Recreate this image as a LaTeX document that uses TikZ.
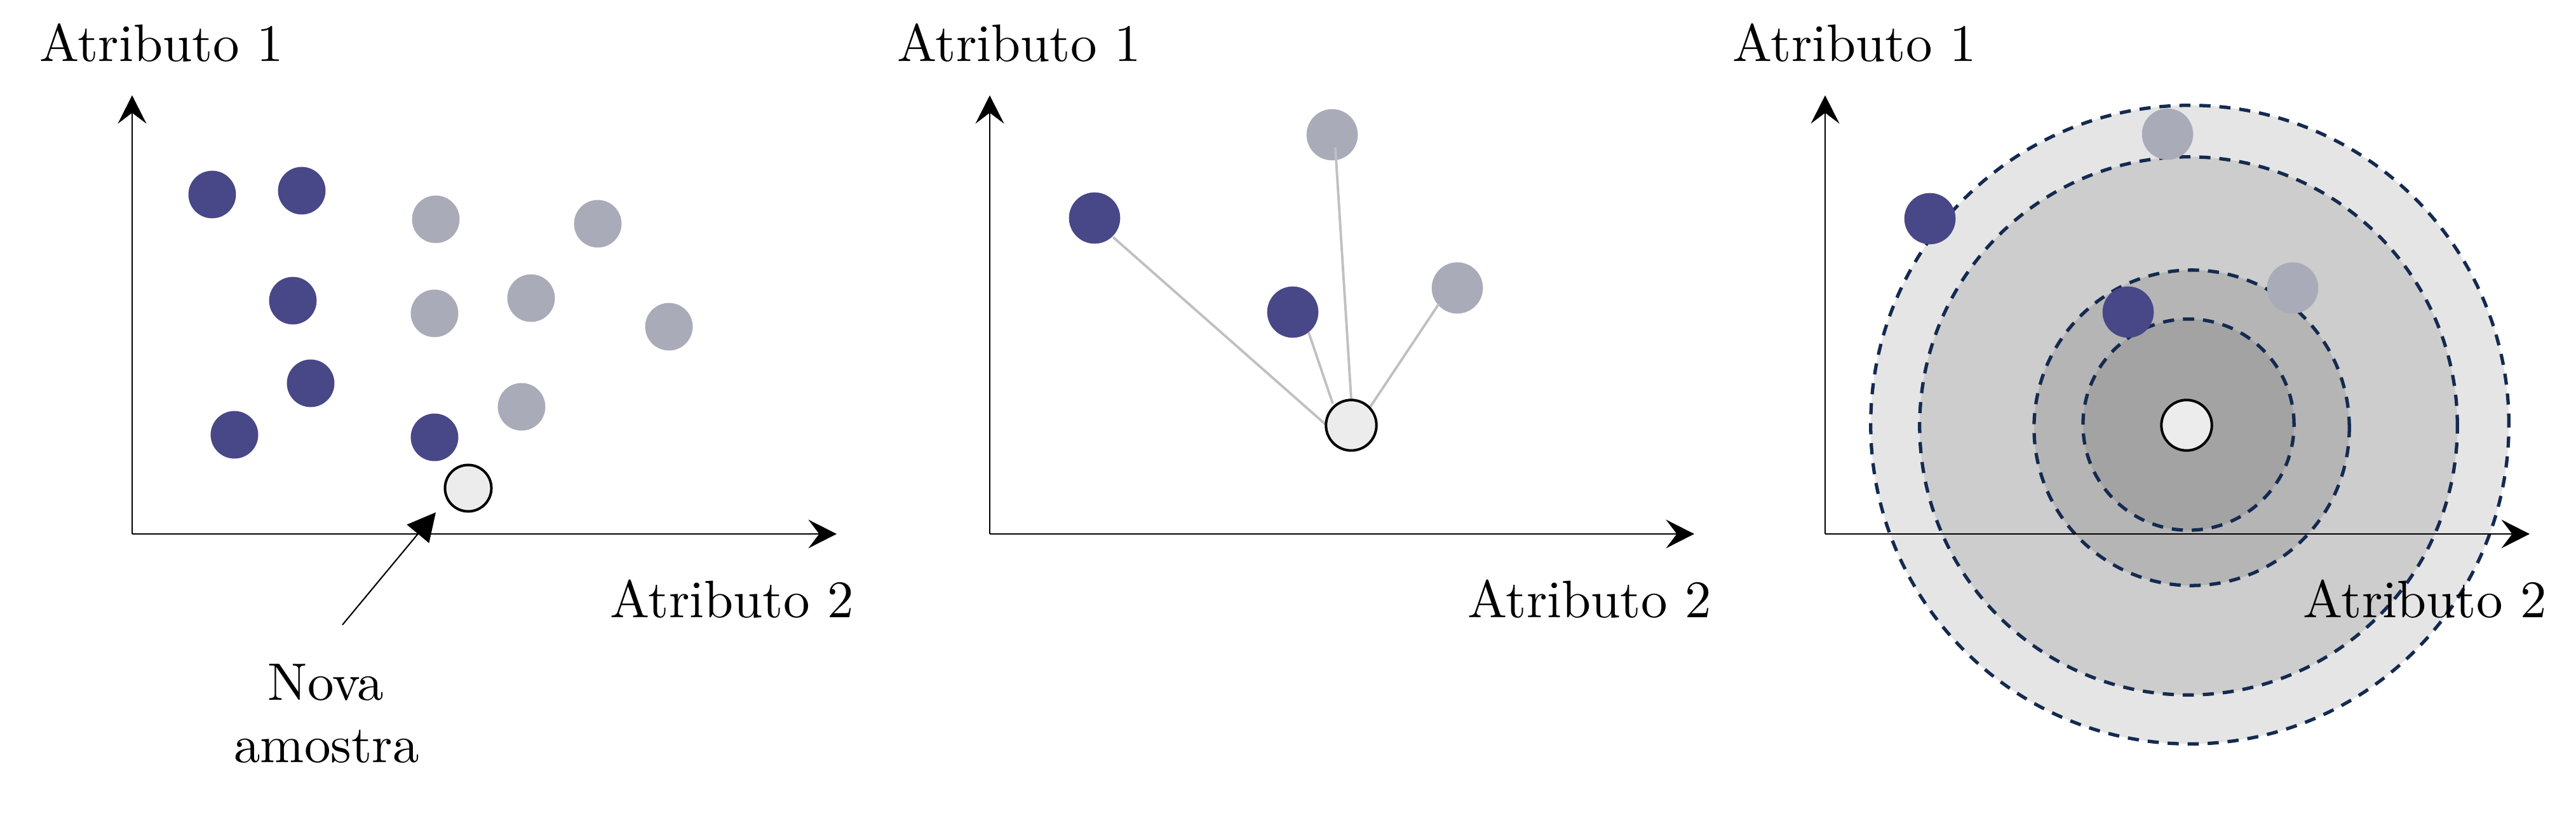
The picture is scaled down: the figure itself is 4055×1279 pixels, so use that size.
\documentclass[tikz,border=0pt]{standalone}
\usepackage{fontspec}
\setmainfont{lmroman10-regular.otf}
\usetikzlibrary{arrows.meta}
\definecolor{dotdark}{RGB}{72,71,135}
\definecolor{dotlight}{RGB}{169,171,185}
\definecolor{newfill}{RGB}{236,236,236}
\definecolor{ringA}{RGB}{229,229,229}
\definecolor{ringB}{RGB}{205,205,205}
\definecolor{ringC}{RGB}{181,181,181}
\definecolor{ringD}{RGB}{163,163,163}
\definecolor{ringline}{RGB}{20,42,80}
\definecolor{linkgray}{RGB}{192,192,192}
\tikzset{
  lbl/.style={font=\fontsize{23.6}{28}\selectfont, inner sep=0pt, anchor=base west},
  ctrlbl/.style={font=\fontsize{23.6}{28}\selectfont, inner sep=0pt, anchor=base},
  axis/.style={line width=0.6pt, -{Stealth[length=0.445cm, width=0.45cm, inset=0.17cm]}},
  dkA/.style={circle, fill=dotdark, inner sep=0pt, minimum size=0.748cm},
  ltA/.style={circle, fill=dotlight, inner sep=0pt, minimum size=0.748cm},
  dkB/.style={circle, fill=dotdark, inner sep=0pt, minimum size=0.806cm},
  ltB/.style={circle, fill=dotlight, inner sep=0pt, minimum size=0.806cm},
  newA/.style={circle, draw=black, fill=newfill, line width=1.14pt, inner sep=0pt, minimum size=0.73cm},
  newB/.style={circle, draw=black, fill=newfill, line width=1.14pt, inner sep=0pt, minimum size=0.794cm},
  link/.style={draw=linkgray, line width=1.1pt},
  ring/.style={circle, draw=ringline, dash pattern=on 0.175cm off 0.14cm, line width=1.5pt, inner sep=0pt},
}
\begin{document}
\begin{tikzpicture}[x=0.01cm, y=-0.01cm]
\useasboundingbox (0,0) rectangle (4055,1279);
% ---------- Panel 1 ----------
\coordinate (o1) at (208,840);
\coordinate (y1) at (208,150);
\coordinate (x1) at (1317,840);
\draw[axis] (o1) -- (y1);
\draw[axis] (o1) -- (x1);
\node[lbl] (a1p1) at (62,97) {Atributo 1};
\node[lbl] (a2p1) at (960,971) {Atributo 2};
\node[dkA] (d11) at (334,306) {};
\node[dkA] (d12) at (475,300) {};
\node[dkA] (d13) at (461,473) {};
\node[dkA] (d14) at (489,603) {};
\node[dkA] (d15) at (369,684) {};
\node[dkA] (d16) at (684,688) {};
\node[ltA] (l11) at (686,345) {};
\node[ltA] (l12) at (941,352) {};
\node[ltA] (l13) at (684,493) {};
\node[ltA] (l14) at (836,469) {};
\node[ltA] (l15) at (1053,514) {};
\node[ltA] (l16) at (821,640) {};
\node[newA] (n1) at (737,768) {};
\coordinate (arrtail) at (539,983);
\coordinate (arrtip) at (686,806);
\draw[line width=0.6pt, -{Triangle[length=0.44cm, width=0.45cm]}] (arrtail) -- (arrtip);
\node[ctrlbl] (nova) at (513,1101) {Nova};
\node[ctrlbl] (amostra) at (514,1199) {amostra};
% ---------- Panel 2 ----------
\coordinate (o2) at (1558,840);
\coordinate (y2) at (1558,150);
\coordinate (x2) at (2667,840);
\draw[axis] (o2) -- (y2);
\draw[axis] (o2) -- (x2);
\node[lbl] (a1p2) at (1412,97) {Atributo 1};
\node[lbl] (a2p2) at (2310,971) {Atributo 2};
\node[dkB] (d21) at (1723,343) {};
\node[dkB] (d22) at (2035,491) {};
\node[ltB] (l21) at (2097,212) {};
\node[ltB] (l22) at (2294,453) {};
\coordinate (s21) at (1752,373);
\coordinate (e21) at (2087,668);
\coordinate (s22) at (2060,523);
\coordinate (e22) at (2098,635);
\coordinate (s23) at (2102,232);
\coordinate (e23) at (2127,628);
\coordinate (s24) at (2265,478);
\coordinate (e24) at (2157,640);
\draw[link] (s21) -- (e21);
\draw[link] (s22) -- (e22);
\draw[link] (s23) -- (e23);
\draw[link] (s24) -- (e24);
\node[newB] (n2) at (2127,669) {};
% ---------- Panel 3 ----------
\node[ring, fill=ringA, minimum size=10.04cm] (r31) at (3447,668) {};
\node[ring, fill=ringB, minimum size=8.46cm] (r32) at (3445,670) {};
\node[ring, fill=ringC, minimum size=4.96cm] (r33) at (3450,673) {};
\node[ring, fill=ringD, minimum size=3.32cm] (r34) at (3445,668) {};
\coordinate (o3) at (2873,840);
\coordinate (y3) at (2873,150);
\coordinate (x3) at (3982,840);
\draw[axis] (o3) -- (y3);
\draw[axis] (o3) -- (x3);
\node[lbl] (a1p3) at (2727,97) {Atributo 1};
\node[lbl] (a2p3) at (3625,971) {Atributo 2};
\node[dkB] (d31) at (3038,344) {};
\node[dkB] (d32) at (3350,491) {};
\node[ltB] (l31) at (3412,211) {};
\node[ltB] (l32) at (3609,453) {};
\node[newB] (n3) at (3442,669) {};
\end{tikzpicture}
\end{document}
